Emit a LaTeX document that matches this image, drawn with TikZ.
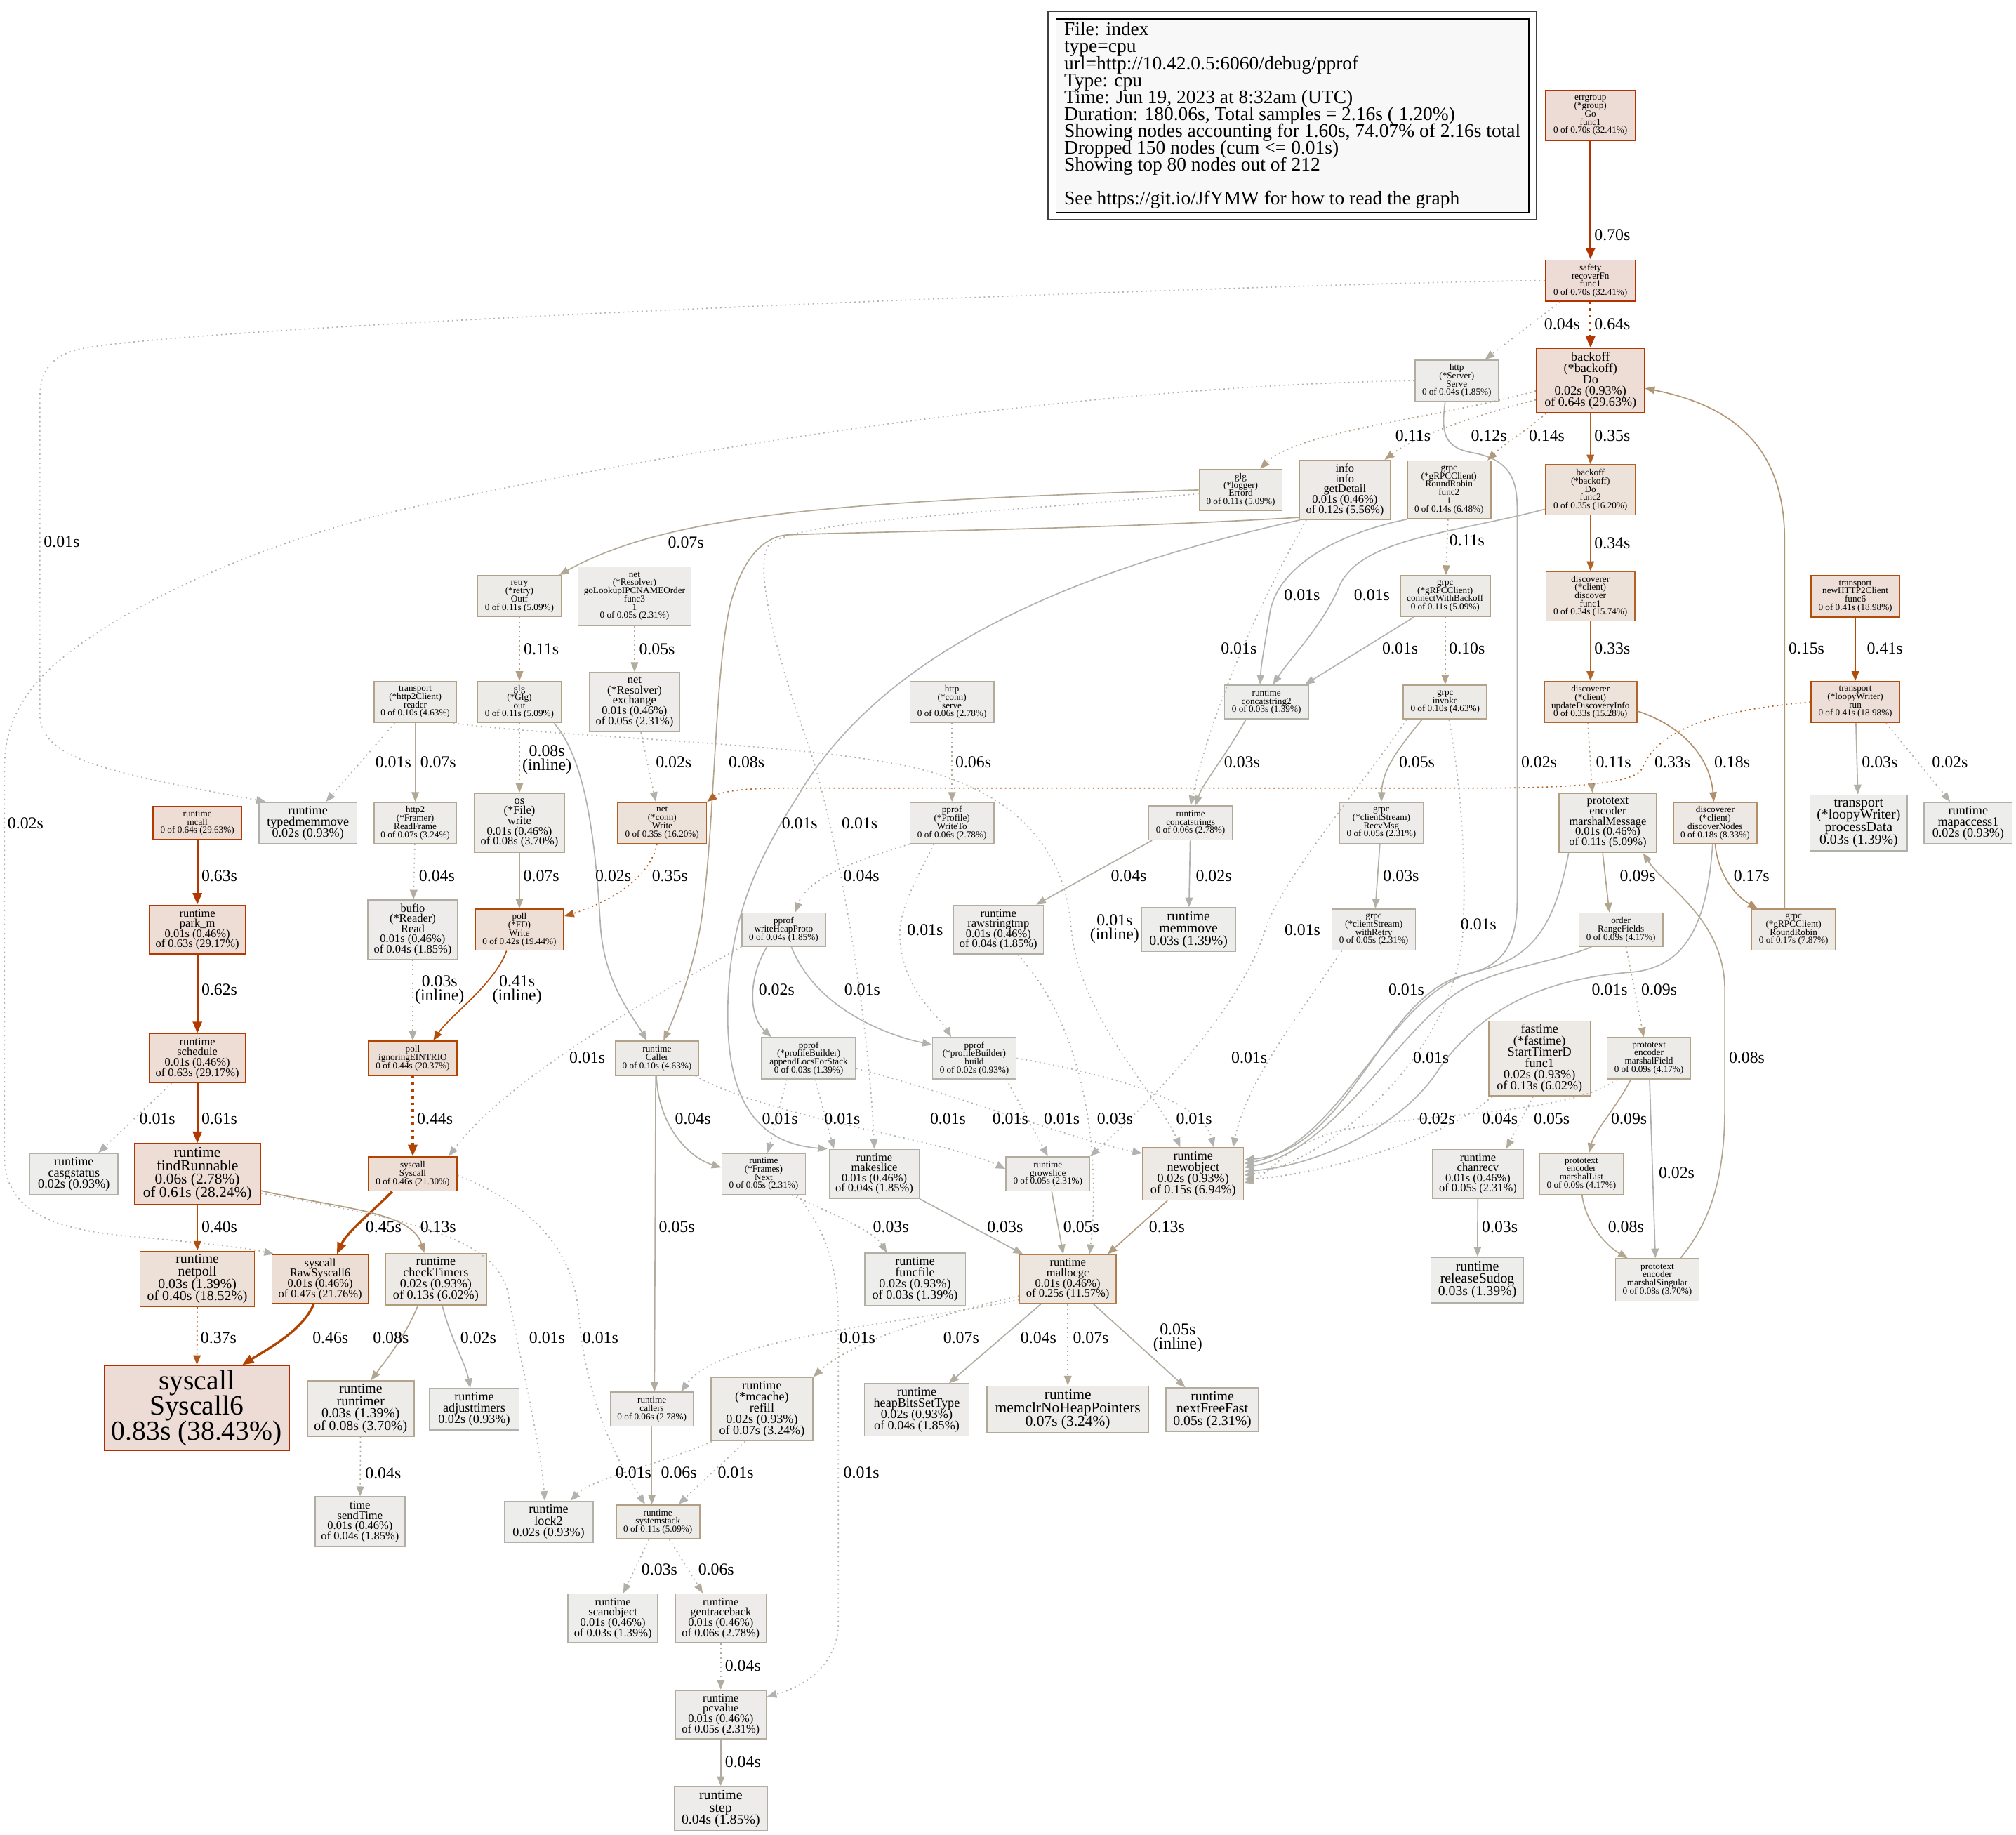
\documentclass[tikz,border=0pt]{standalone}
\usepackage{fontspec}
\setmainfont{Liberation Serif}
\usetikzlibrary{arrows.meta}
\makeatletter
\newcommand\ppmk[1]{%
  \pgfmathsetmacro\pp@s{#1/216}%
  \pgfmathsetmacro\pp@f{min(1,\pp@s/0.2)}%
  \pgfmathsetmacro\pp@p{exp(0.3*ln(\pp@s))}%
  \pgfmathsetmacro\pp@g{0.7*(1-\pp@f*\pp@p)}%
  \pgfmathsetmacro\pp@b{0.7*(1-\pp@f)}%
  \pgfmathsetmacro\pp@G{0.93*(1-0.1*\pp@f*\pp@p)}%
  \pgfmathsetmacro\pp@B{0.93*(1-0.1*\pp@f)}%
  \edef\pp@tmp{\noexpand\definecolor{c#1-fg}{rgb}{0.7,\pp@g,\pp@b}\noexpand\definecolor{c#1-bg}{rgb}{0.93,\pp@G,\pp@B}}%
  \pp@tmp}
\makeatother
\newcount\ppi
\ppi=1
\loop
  \expandafter\ppmk\expandafter{\the\ppi}%
  \advance\ppi by 1
\ifnum\ppi<84\repeat
\definecolor{legbg}{HTML}{F8F8F8}
\newcommand\ftA{\fontsize{7.2}{6.4}\selectfont\lineskiplimit=-60pt\relax}
\newcommand\ftB{\fontsize{9.0}{8.0}\selectfont\lineskiplimit=-60pt\relax}
\newcommand\ftC{\fontsize{9.9}{8.8}\selectfont\lineskiplimit=-60pt\relax}
\newcommand\ftD{\fontsize{10.8}{9.6}\selectfont\lineskiplimit=-60pt\relax}
\newcommand\ftE{\fontsize{11.7}{10.4}\selectfont\lineskiplimit=-60pt\relax}
\newcommand\ftG{\fontsize{21.6}{19.6}\selectfont\lineskiplimit=-60pt\relax}
\newcommand\ftL{\fontsize{13}{10.9}\selectfont\lineskiplimit=-60pt\relax}
\newcommand\ftLeg{\fontsize{15}{13.16}\selectfont\lineskiplimit=-60pt\relax}
\tikzset{
  pn/.style n args={4}{rectangle, draw=c#1-fg, fill=c#1-bg, line width=0.9pt, minimum width=#2, minimum height=#3, font=#4, inner sep=0.5pt, align=center},
  ed/.style={draw=c#1-fg, line width=0.9pt, -{Triangle[length=7.5pt,width=5.8pt]}},
  thk/.style={line width=1.8pt, -{Triangle[length=9pt,width=7pt]}},
  dt/.style={dash pattern=on 1pt off 2.6pt},
  dtk/.style={dash pattern=on 1.8pt off 3.4pt},
  lb/.style={font=\ftL, inner sep=0pt, align=center},
}
\begin{document}
\begin{tikzpicture}[x=1pt,y=-1pt]
\fill[white] (0,0) rectangle (1568,1426.6);
\useasboundingbox (0,0) rectangle (1568,1426.6);
% legend
\node[draw=black!75, line width=1pt, minimum width=380.1pt, minimum height=162.4pt, inner sep=0pt] (legendFrame) at (1005.2,89.8) {};
\node[draw=black, fill=legbg, line width=0.9pt, minimum width=367.7pt, minimum height=150.7pt, inner sep=0pt, align=left, font=\ftLeg] (legend) at (1005.2,90) {File: index\\type=cpu\\url=http://10.42.0.5:6060/debug/pprof\\Type: cpu\\Time: Jun 19, 2023 at 8:32am (UTC)\\Duration: 180.06s, Total samples = 2.16s ( 1.20\%)\\Showing nodes accounting for 1.60s, 74.07\% of 2.16s total\\Dropped 150 nodes (cum <= 0.01s)\\Showing top 80 nodes out of 212\\[13.16pt]See https://git.io/JfYMW for how to read the graph};
% nodes
\node[pn={70}{70pt}{39pt}{\ftA}] (errgroup) at (1237,89.7) {errgroup\\(*group)\\Go\\func1\\0 of 0.70s (32.41\%)};
\node[pn={70}{70pt}{32pt}{\ftA}] (safety) at (1237,218.2) {safety\\recoverFn\\func1\\0 of 0.70s (32.41\%)};
\node[pn={64}{84pt}{50pt}{\ftC}] (backoffDo) at (1237,296) {backoff\\(*backoff)\\Do\\0.02s (0.93\%)\\of 0.64s (29.63\%)};
\node[pn={4}{65pt}{32pt}{\ftA}] (httpServe) at (1133,296) {http\\(*Server)\\Serve\\0 of 0.04s (1.85\%)};
\node[pn={35}{70pt}{39pt}{\ftA}] (backoffF2) at (1237,381) {backoff\\(*backoff)\\Do\\func2\\0 of 0.35s (16.20\%)};
\node[pn={14}{65pt}{45pt}{\ftA}] (rrF2) at (1127,381) {grpc\\(*gRPCClient)\\RoundRobin\\func2\\1\\0 of 0.14s (6.48\%)};
\node[pn={12}{71pt}{46pt}{\ftB}] (info) at (1046,381) {info\\info\\getDetail\\0.01s (0.46\%)\\of 0.12s (5.56\%)};
\node[pn={11}{64.5pt}{32pt}{\ftA}] (glgErrord) at (965,381) {glg\\(*logger)\\Errord\\0 of 0.11s (5.09\%)};
\node[pn={11}{65pt}{32pt}{\ftA}] (retry) at (404,463.6) {retry\\(*retry)\\Outf\\0 of 0.11s (5.09\%)};
\node[pn={5}{88pt}{45.6pt}{\ftA}] (goLookup) at (493.5,463.6) {net\\(*Resolver)\\goLookupIPCNAMEOrder\\func3\\1\\0 of 0.05s (2.31\%)};
\node[pn={11}{70pt}{32pt}{\ftA}] (cwb) at (1124,463.6) {grpc\\(*gRPCClient)\\connectWithBackoff\\0 of 0.11s (5.09\%)};
\node[pn={34}{69pt}{38.4pt}{\ftA}] (discover) at (1237,463.7) {discoverer\\(*client)\\discover\\func1\\0 of 0.34s (15.74\%)};
\node[pn={41}{69pt}{32.4pt}{\ftA}] (newH2) at (1443,463.7) {transport\\newHTTP2Client\\func6\\0 of 0.41s (18.98\%)};
\node[pn={10}{64pt}{32pt}{\ftA}] (reader) at (323,546) {transport\\(*http2Client)\\reader\\0 of 0.10s (4.63\%)};
\node[pn={11}{65pt}{32pt}{\ftA}] (glgOut) at (404,546) {glg\\(*Glg)\\out\\0 of 0.11s (5.09\%)};
\node[pn={5}{70pt}{46pt}{\ftB}] (exchange) at (493.5,546) {net\\(*Resolver)\\exchange\\0.01s (0.46\%)\\of 0.05s (2.31\%)};
\node[pn={6}{65pt}{32pt}{\ftA}] (connServe) at (740.4,546) {http\\(*conn)\\serve\\0 of 0.06s (2.78\%)};
\node[pn={3}{65pt}{26.4pt}{\ftA}] (cs2) at (985,546) {runtime\\concatstring2\\0 of 0.03s (1.39\%)};
\node[pn={10}{65pt}{26.4pt}{\ftA}] (invoke) at (1124,546) {grpc\\invoke\\0 of 0.10s (4.63\%)};
\node[pn={33}{72pt}{32pt}{\ftA}] (udi) at (1237,546) {discoverer\\(*client)\\updateDiscoveryInfo\\0 of 0.33s (15.28\%)};
\node[pn={41}{69pt}{32pt}{\ftA}] (run) at (1443,546) {transport\\(*loopyWriter)\\run\\0 of 0.41s (18.98\%)};
\node[pn={64}{69pt}{26pt}{\ftA}] (mcall) at (153.5,640) {runtime\\mcall\\0 of 0.64s (29.63\%)};
\node[pn={2}{76.4pt}{32pt}{\ftC}] (typedmm) at (239.5,640) {runtime\\typedmemmove\\0.02s (0.93\%)};
\node[pn={7}{64pt}{32pt}{\ftA}] (readFrame) at (323,640) {http2\\(*Framer)\\ReadFrame\\0 of 0.07s (3.24\%)};
\node[pn={8}{70pt}{46pt}{\ftB}] (osWrite) at (404,640) {os\\(*File)\\write\\0.01s (0.46\%)\\of 0.08s (3.70\%)};
\node[pn={35}{69pt}{32pt}{\ftA}] (connWrite) at (515,640) {net\\(*conn)\\Write\\0 of 0.35s (16.20\%)};
\node[pn={6}{65pt}{32pt}{\ftA}] (writeTo) at (740.4,640) {pprof\\(*Profile)\\WriteTo\\0 of 0.06s (2.78\%)};
\node[pn={6}{65pt}{26.4pt}{\ftA}] (css) at (926,640) {runtime\\concatstrings\\0 of 0.06s (2.78\%)};
\node[pn={5}{65pt}{32pt}{\ftA}] (recvMsg) at (1074.4,640) {grpc\\(*clientStream)\\RecvMsg\\0 of 0.05s (2.31\%)};
\node[pn={11}{76pt}{46pt}{\ftB}] (marshalMsg) at (1250.5,640) {prototext\\encoder\\marshalMessage\\0.01s (0.46\%)\\of 0.11s (5.09\%)};
\node[pn={18}{65pt}{32pt}{\ftA}] (discNodes) at (1334,640) {discoverer\\(*client)\\discoverNodes\\0 of 0.18s (8.33\%)};
\node[pn={3}{75.6pt}{43.6pt}{\ftD}] (processData) at (1445.6,640) {transport\\(*loopyWriter)\\processData\\0.03s (1.39\%)};
\node[pn={2}{68.5pt}{32pt}{\ftC}] (mapaccess) at (1530.8,640) {runtime\\mapaccess1\\0.02s (0.93\%)};
\node[pn={63}{75pt}{38pt}{\ftB}] (parkm) at (153.5,723) {runtime\\park\_m\\0.01s (0.46\%)\\of 0.63s (29.17\%)};
\node[pn={4}{70pt}{46pt}{\ftB}] (bufio) at (321,723) {bufio\\(*Reader)\\Read\\0.01s (0.46\%)\\of 0.04s (1.85\%)};
\node[pn={42}{69pt}{32pt}{\ftA}] (fdWrite) at (404,723) {poll\\(*FD)\\Write\\0 of 0.42s (19.44\%)};
\node[pn={4}{65pt}{26pt}{\ftA}] (heapProto) at (609.5,723) {pprof\\writeHeapProto\\0 of 0.04s (1.85\%)};
\node[pn={4}{70pt}{38pt}{\ftB}] (rawstr) at (776.5,723) {runtime\\rawstringtmp\\0.01s (0.46\%)\\of 0.04s (1.85\%)};
\node[pn={3}{73pt}{34pt}{\ftD}] (memmove) at (924.4,723) {runtime\\memmove\\0.03s (1.39\%)};
\node[pn={5}{65pt}{32pt}{\ftA}] (withRetry) at (1068.5,723) {grpc\\(*clientStream)\\withRetry\\0 of 0.05s (2.31\%)};
\node[pn={9}{65pt}{26pt}{\ftA}] (rangeFields) at (1260.7,723) {order\\RangeFields\\0 of 0.09s (4.17\%)};
\node[pn={17}{65pt}{32pt}{\ftA}] (rrClient) at (1395,723) {grpc\\(*gRPCClient)\\RoundRobin\\0 of 0.17s (7.87\%)};
\node[pn={63}{75pt}{38pt}{\ftB}] (schedule) at (153.5,823) {runtime\\schedule\\0.01s (0.46\%)\\of 0.63s (29.17\%)};
\node[pn={44}{69pt}{26.6pt}{\ftA}] (eintr) at (321,823) {poll\\ignoringEINTRIO\\0 of 0.44s (20.37\%)};
\node[pn={10}{65pt}{26.6pt}{\ftA}] (caller) at (511,823) {runtime\\Caller\\0 of 0.10s (4.63\%)};
\node[pn={3}{73pt}{32pt}{\ftA}] (appendLocs) at (629,823) {pprof\\(*profileBuilder)\\appendLocsForStack\\0 of 0.03s (1.39\%)};
\node[pn={2}{65pt}{32pt}{\ftA}] (build) at (757.8,823) {pprof\\(*profileBuilder)\\build\\0 of 0.02s (0.93\%)};
\node[pn={13}{79pt}{58.4pt}{\ftC}] (fastime) at (1197.4,823.2) {fastime\\(*fastime)\\StartTimerD\\func1\\0.02s (0.93\%)\\of 0.13s (6.02\%)};
\node[pn={9}{65pt}{32pt}{\ftA}] (marshalField) at (1282.5,823) {prototext\\encoder\\marshalField\\0 of 0.09s (4.17\%)};
\node[pn={2}{68.5pt}{32pt}{\ftC}] (casg) at (57.5,913) {runtime\\casgstatus\\0.02s (0.93\%)};
\node[pn={61}{98pt}{47pt}{\ftE}] (findRunnable) at (153.5,913) {runtime\\findRunnable\\0.06s (2.78\%)\\of 0.61s (28.24\%)};
\node[pn={46}{69pt}{26.5pt}{\ftA}] (syscall) at (321,913) {syscall\\Syscall\\0 of 0.46s (21.30\%)};
\node[pn={5}{65pt}{32pt}{\ftA}] (framesNext) at (594,913) {runtime\\(*Frames)\\Next\\0 of 0.05s (2.31\%)};
\node[pn={4}{70pt}{38pt}{\ftB}] (makeslice) at (680,913) {runtime\\makeslice\\0.01s (0.46\%)\\of 0.04s (1.85\%)};
\node[pn={5}{65pt}{26.5pt}{\ftA}] (growslice) at (815,913) {runtime\\growslice\\0 of 0.05s (2.31\%)};
\node[pn={15}{78.5pt}{40.6pt}{\ftC}] (newobject) at (928,913) {runtime\\newobject\\0.02s (0.93\%)\\of 0.15s (6.94\%)};
\node[pn={5}{71pt}{38pt}{\ftB}] (chanrecv) at (1149.5,913) {runtime\\chanrecv\\0.01s (0.46\%)\\of 0.05s (2.31\%)};
\node[pn={9}{65pt}{32pt}{\ftA}] (marshalList) at (1230,913) {prototext\\encoder\\marshalList\\0 of 0.09s (4.17\%)};
\node[pn={40}{89pt}{43pt}{\ftD}] (netpoll) at (153.5,994.6) {runtime\\netpoll\\0.03s (1.39\%)\\of 0.40s (18.52\%)};
\node[pn={47}{75pt}{38pt}{\ftB}] (rawSyscall6) at (249,994.8) {syscall\\RawSyscall6\\0.01s (0.46\%)\\of 0.47s (21.76\%)};
\node[pn={13}{78.5pt}{40pt}{\ftC}] (checkTimers) at (339,995) {runtime\\checkTimers\\0.02s (0.93\%)\\of 0.13s (6.02\%)};
\node[pn={3}{78.5pt}{40.6pt}{\ftC}] (funcfile) at (711.7,995) {runtime\\funcfile\\0.02s (0.93\%)\\of 0.03s (1.39\%)};
\node[pn={25}{75pt}{38pt}{\ftB}] (mallocgc) at (830.5,994.8) {runtime\\mallocgc\\0.01s (0.46\%)\\of 0.25s (11.57\%)};
\node[pn={3}{72pt}{35.5pt}{\ftD}] (releaseSudog) at (1149,995.4) {runtime\\releaseSudog\\0.03s (1.39\%)};
\node[pn={8}{65pt}{33pt}{\ftA}] (marshalSingular) at (1289,995.5) {prototext\\encoder\\marshalSingular\\0 of 0.08s (3.70\%)};
\node[pn={83}{144pt}{66pt}{\ftG}] (syscall6) at (153,1095) {syscall\\Syscall6\\0.83s (38.43\%)};
\node[pn={8}{83pt}{43pt}{\ftD}] (runtimer) at (280.5,1095.5) {runtime\\runtimer\\0.03s (1.39\%)\\of 0.08s (3.70\%)};
\node[pn={2}{69.7pt}{32pt}{\ftC}] (adjusttimers) at (368.8,1096) {runtime\\adjusttimers\\0.02s (0.93\%)};
\node[pn={6}{64.4pt}{26.4pt}{\ftA}] (callers) at (507,1096) {runtime\\callers\\0 of 0.06s (2.78\%)};
\node[pn={7}{79pt}{49.3pt}{\ftC}] (refill) at (592.6,1096) {runtime\\(*mcache)\\refill\\0.02s (0.93\%)\\of 0.07s (3.24\%)};
\node[pn={4}{81.5pt}{40.5pt}{\ftC}] (heapBits) at (713,1096.5) {runtime\\heapBitsSetType\\0.02s (0.93\%)\\of 0.04s (1.85\%)};
\node[pn={7}{125.7pt}{36pt}{\ftE}] (memclr) at (830.5,1096) {runtime\\memclrNoHeapPointers\\0.07s (3.24\%)};
\node[pn={5}{72pt}{34pt}{\ftD}] (nextFree) at (942.9,1096.4) {runtime\\nextFreeFast\\0.05s (2.31\%)};
\node[pn={4}{70pt}{39pt}{\ftB}] (sendTime) at (280,1183.5) {time\\sendTime\\0.01s (0.46\%)\\of 0.04s (1.85\%)};
\node[pn={2}{69pt}{32pt}{\ftC}] (lock2) at (426.7,1183.6) {runtime\\lock2\\0.02s (0.93\%)};
\node[pn={11}{65pt}{26.4pt}{\ftA}] (systemstack) at (511.7,1183.6) {runtime\\systemstack\\0 of 0.11s (5.09\%)};
\node[pn={3}{70pt}{38pt}{\ftB}] (scanobject) at (476.7,1258.6) {runtime\\scanobject\\0.01s (0.46\%)\\of 0.03s (1.39\%)};
\node[pn={6}{71pt}{38pt}{\ftB}] (gentraceback) at (560.6,1258.6) {runtime\\gentraceback\\0.01s (0.46\%)\\of 0.06s (2.78\%)};
\node[pn={5}{71pt}{38pt}{\ftB}] (pcvalue) at (560.6,1333.5) {runtime\\pcvalue\\0.01s (0.46\%)\\of 0.05s (2.31\%)};
\node[pn={4}{72.3pt}{34.4pt}{\ftD}] (step) at (560.6,1406.7) {runtime\\step\\0.04s (1.85\%)};
% edges
\draw[ed=70,thk] (errgroup) -- (safety);
\draw[ed=64,thk,dtk] (safety) -- (backoffDo);
\draw[ed=4,dt] ([xshift=12pt]safety.south west) -- ([xshift=-11pt]httpServe.north east);
\draw[ed=1,dt] (safety.west) .. controls (1000,220) and (200,250) .. (70,270) .. controls (42,274) and (31,286) .. (31,310) -- (31,555) .. controls (31,590) and (80,600) .. ([xshift=6pt]typedmm.north west);
\draw[ed=2,dt] (httpServe.west) .. controls (850,300) and (550,345) .. (327.6,393) .. controls (180,425) and (60,490) .. (25,535) .. controls (8,558) and (3.5,575) .. (3.5,600) -- (3.5,900) .. controls (3.5,950) and (60,958) .. (107,962) .. controls (150,966) and (190,970) .. ([xshift=2pt]rawSyscall6.north west);
\draw[ed=2] ([xshift=-9pt]httpServe.south) .. controls (1121,335) and (1122,348) .. (1145,352) .. controls (1172,357) and (1180,370) .. (1180,395) -- (1180,700) .. controls (1180,738) and (1166,752) .. (1140,758) .. controls (1075,773) and (1050,895) .. ([yshift=11pt]newobject.east);
\draw[ed=11,dt] ([yshift=-8pt]backoffDo.west) .. controls (1120,325) and (1010,335) .. ([xshift=15pt]glgErrord.north);
\draw[ed=12,dt] ([yshift=-15pt]backoffDo.west) .. controls (1140,325) and (1100,340) .. ([xshift=-5pt]info.north east);
\draw[ed=14,dt] ([xshift=8pt]backoffDo.south west) .. controls (1190,333) and (1170,345) .. ([xshift=-3pt]rrF2.north east);
\draw[ed=35] (backoffDo) -- (backoffF2);
\draw[ed=34] (backoffF2) -- (discover);
\draw[ed=33] (discover) -- (udi);
\draw[ed=15] ([xshift=-7pt]rrClient.north) -- (1388,420) .. controls (1388,345) and (1345,315) .. ([yshift=-6pt]backoffDo.east);
\draw[ed=41] (newH2) -- (run);
\draw[ed=7] (glgErrord.west) .. controls (650,390) and (520,400) .. ([xshift=-2pt]retry.north east);
\draw[ed=1,dt] ([yshift=-3pt]glgErrord.west) .. controls (760,400) and (630,404) .. (600,422) .. controls (585,432) and (600,500) .. (629,580) .. controls (655,660) and (676,800) .. (makeslice.north);
\draw[ed=11,dt] (rrF2) -- (cwb);
\draw[ed=11,dt] (retry) -- (glgOut);
\draw[ed=5,dt] (goLookup) -- (exchange);
\draw[ed=1] (rrF2.south west) .. controls (1040,415) and (995,440) .. (988,475) .. controls (984,500) and (981,515) .. ([xshift=-5pt]cs2.north);
\draw[ed=1] ([yshift=-15pt]backoffF2.west) .. controls (1130,415) and (1060,418) .. (1042,455) .. controls (1030,485) and (1005,510) .. ([xshift=5pt]cs2.north);
\draw[ed=1,dt] ([xshift=-30pt]info.south) .. controls (990,450) and (945,540) .. (css.north);
\draw[ed=1] ([xshift=11pt]cwb.south west) -- ([xshift=-3pt]cs2.north east);
\draw[ed=10,dt] (cwb) -- (invoke);
\draw[ed=1,dt] ([xshift=-16pt]reader.south) -- ([xshift=14pt]typedmm.north);
\draw[ed=7] (reader) -- (readFrame);
\draw[ed=8,dt] (glgOut) -- (osWrite);
\draw[ed=2,dt] ([xshift=5pt]exchange.south) -- ([xshift=-5pt]connWrite.north);
\draw[ed=8] ([yshift=2pt]info.south west) .. controls (850,412) and (690,413) .. (612,416) .. controls (590,418) and (576,440) .. (568,470) .. controls (556,520) and (556,640) .. (546,712) .. controls (541,750) and (525,790) .. ([xshift=5pt]caller.north);
\draw[ed=6,dt] (connServe) -- (writeTo);
\draw[ed=3] ([xshift=-16pt]cs2.south) .. controls (952,590) and (935,610) .. ([xshift=4pt]css.north);
\draw[ed=5] ([xshift=-18pt]invoke.south) .. controls (1085,585) and (1075,600) .. (recvMsg.north);
\draw[ed=11,dt] ([xshift=-2pt]udi.south) -- ([xshift=-12pt]marshalMsg.north);
\draw[ed=33,dt] (run.west) .. controls (1340,552) and (1290,565) .. (1277,598) .. controls (1270,611) and (1210,613) .. (1140,613) -- (610,613) .. controls (575,613) and (560,616) .. (connWrite.north east);
\draw[ed=18] ([yshift=-7pt]udi.east) .. controls (1310,565) and (1330,590) .. ([xshift=-1pt]discNodes.north);
\draw[ed=3] (run) -- (processData);
\draw[ed=2,dt] ([xshift=-11pt]run.south east) -- ([xshift=-14pt]mapaccess.north);
\draw[ed=1] ([xshift=1pt]info.south west) .. controls (850,440) and (690,500) .. (620,620) .. controls (585,675) and (566,720) .. (566,790) .. controls (566,870) and (600,890) .. ([xshift=-1pt]makeslice.north west);
\draw[ed=63,thk] (mcall) -- (parkm);
\draw[ed=4,dt] (readFrame) -- (bufio);
\draw[ed=7] (osWrite) -- (fdWrite);
\draw[ed=2] ([xshift=-6pt]glgOut.south east) .. controls (455,590) and (463,650) .. (467,720) .. controls (470,765) and (492,790) .. ([xshift=-8pt]caller.north);
\draw[ed=35,dt] ([xshift=-4pt]connWrite.south) .. controls (505,685) and (470,703) .. ([yshift=-6pt]fdWrite.north east);
\draw[ed=4,dt] (writeTo.south west) .. controls (670,668) and (628,682) .. ([xshift=9pt]heapProto.north);
\draw[ed=4] ([xshift=-30pt]css.south) -- ([xshift=-6pt]rawstr.north east);
\draw[ed=2] (css) -- (memmove);
\draw[ed=3] (recvMsg) -- (withRetry);
\draw[ed=9] ([xshift=-4pt]marshalMsg.south) -- ([xshift=-9pt]rangeFields.north);
\draw[ed=17] (discNodes.south) .. controls (1336,680) and (1350,697) .. ([xshift=-28pt]rrClient.north);
\draw[ed=1,dt] ([xshift=-14pt]writeTo.south) .. controls (712,685) and (698,710) .. (700,730) .. controls (702,770) and (730,790) .. ([xshift=-18pt]build.north);
\draw[ed=1,dt] ([xshift=-3pt]reader.south east) .. controls (450,575) and (650,578) .. (726,601) .. controls (790,620) and (828,660) .. (833,720) .. controls (838,790) and (900,850) .. ([xshift=-10pt]newobject.north);
\draw[ed=1,dt] ([xshift=-30pt]invoke.south) .. controls (1060,610) and (1000,680) .. (985,720) .. controls (965,790) and (880,870) .. (growslice.north east);
\draw[ed=1,dt] ([xshift=3pt]invoke.south) .. controls (1138,620) and (1140,680) .. (1138,720) .. controls (1135,820) and (1030,905) .. ([yshift=-1pt]newobject.east);
\draw[ed=62,thk] (parkm) -- (schedule);
\draw[ed=3,dt] (bufio) -- (eintr);
\draw[ed=41] ([xshift=-10pt]fdWrite.south) .. controls (385,765) and (350,790) .. ([xshift=16pt]eintr.north);
\draw[ed=2] ([xshift=-13pt]heapProto.south) .. controls (582,760) and (582,790) .. ([xshift=-29pt]appendLocs.north);
\draw[ed=1] ([xshift=6pt]heapProto.south) .. controls (635,785) and (690,805) .. ([yshift=-6pt]build.north west);
\draw[ed=1] ([xshift=8pt]marshalMsg.south west) .. controls (1210,715) and (1195,745) .. (1150,755) .. controls (1080,770) and (1045,890) .. ([yshift=8pt]newobject.east);
\draw[ed=1] ([xshift=-2pt]discNodes.south) .. controls (1328,720) and (1310,752) .. (1270,756) .. controls (1190,762) and (1150,790) .. (1120,830) .. controls (1095,872) and (1030,906) .. ([yshift=2pt]newobject.east);
\draw[ed=9,dt] ([xshift=4pt]rangeFields.south) -- ([xshift=-4pt]marshalField.north);
\draw[ed=1,dt] (heapProto.south west) .. controls (480,790) and (390,845) .. ([xshift=-7pt]syscall.north east);
\draw[ed=1,dt] ([xshift=8pt]withRetry.south west) .. controls (1010,790) and (970,840) .. ([xshift=31pt]newobject.north);
\draw[ed=1] ([xshift=10pt]rangeFields.south west) .. controls (1210,748) and (1170,752) .. (1140,768) .. controls (1090,795) and (1040,895) .. ([yshift=5pt]newobject.east);
\draw[ed=8] ([xshift=-15pt]marshalSingular.north east) .. controls (1335,945) and (1341.5,905) .. (1341.5,860) -- (1341.5,770) .. controls (1341.5,715) and (1295,690) .. ([xshift=-11pt]marshalMsg.south east);
\draw[ed=1,dt] ([xshift=-20pt]schedule.south) -- ([xshift=19pt]casg.north);
\draw[ed=61,thk] (schedule) -- (findRunnable);
\draw[ed=44,thk,dtk] (eintr) -- (syscall);
\draw[ed=4] ([xshift=-0.5pt]caller.south) .. controls (512,875) and (535,900) .. ([yshift=5pt]framesNext.west);
\draw[ed=1,dt] ([xshift=-17pt]appendLocs.south) -- ([xshift=3pt]framesNext.north);
\draw[ed=1,dt] ([xshift=5pt]appendLocs.south) -- ([xshift=4pt]makeslice.north west);
\draw[ed=1,dt] ([xshift=-3pt]caller.south east) .. controls (600,870) and (730,885) .. ([yshift=4pt]growslice.west);
\draw[ed=1,dt] ([yshift=-8pt]appendLocs.east) .. controls (740,850) and (830,885) .. ([yshift=16pt]newobject.west);
\draw[ed=1,dt] ([xshift=-8pt]build.south east) -- (growslice.north);
\draw[ed=3,dt] ([xshift=15pt]rawstr.south) .. controls (845,800) and (856,900) .. ([xshift=17pt]mallocgc.north);
\draw[ed=1,dt] (build.east) .. controls (860,835) and (935,855) .. ([xshift=16pt]newobject.north);
\draw[ed=2,dt] ([xshift=8pt]marshalField.south west) .. controls (1220,868) and (1100,865) .. (1040,880) .. controls (1000,890) and (985,915) .. ([yshift=-7pt]newobject.east);
\draw[ed=4,dt] ([xshift=3pt]fastime.south west) .. controls (1120,890) and (1010,916) .. ([yshift=-4pt]newobject.east);
\draw[ed=5,dt] ([xshift=-5pt]fastime.south) -- ([xshift=22pt]chanrecv.north);
\draw[ed=9] ([xshift=-14pt]marshalField.south) .. controls (1258,860) and (1240,880) .. ([xshift=6pt]marshalList.north);
\draw[ed=2] ([xshift=0.5pt]marshalField.south) -- ([xshift=-1.5pt]marshalSingular.north);
\draw[ed=40] (findRunnable) -- (netpoll);
\draw[ed=45,thk] ([xshift=-16pt]syscall.south) .. controls (290,942) and (270,958) .. ([xshift=13pt]rawSyscall6.north);
\draw[ed=13] ([yshift=-13pt]findRunnable.east) .. controls (265,940) and (320,942) .. ([xshift=-9pt]checkTimers.north);
\draw[ed=5] ([xshift=-1pt]caller.south) -- ([xshift=2pt]callers.north);
\draw[ed=3,dt] ([xshift=-11pt]framesNext.south east) .. controls (650,945) and (680,958) .. ([xshift=-22pt]funcfile.north);
\draw[ed=3] (makeslice.south east) -- ([xshift=3pt]mallocgc.north west);
\draw[ed=5] ([xshift=3pt]growslice.south) -- ([xshift=-3.5pt]mallocgc.north);
\draw[ed=13] ([xshift=-20pt]newobject.south) -- ([xshift=31pt]mallocgc.north);
\draw[ed=3] (chanrecv) -- (releaseSudog);
\draw[ed=8] ([xshift=0.5pt]marshalList.south) .. controls (1233,950) and (1248,968) .. ([xshift=-23pt]marshalSingular.north);
\draw[ed=37,dt] (netpoll) -- (syscall6);
\draw[ed=46,thk] ([xshift=-5pt]rawSyscall6.south) .. controls (235,1035) and (210,1048) .. ([xshift=-37pt]syscall6.north east);
\draw[ed=8] ([xshift=-14pt]checkTimers.south) .. controls (315,1040) and (300,1058) .. ([xshift=8pt]runtimer.north);
\draw[ed=2] ([xshift=5pt]checkTimers.south) .. controls (350,1040) and (362,1060) .. ([xshift=-3pt]adjusttimers.north);
\draw[ed=1,dt] ([yshift=-15pt]findRunnable.east) .. controls (330,950) and (385,965) .. (395,1005) .. controls (405,1060) and (420,1120) .. ([xshift=-3pt]lock2.north);
\draw[ed=1,dt] ([yshift=-1pt]syscall.east) .. controls (420,940) and (445,975) .. (450,1020) .. controls (455,1090) and (482,1140) .. ([xshift=-10pt]systemstack.north);
\draw[ed=1,dt] ([yshift=-16pt]mallocgc.west) .. controls (700,1030) and (560,1040) .. ([xshift=-10pt]callers.north east);
\draw[ed=7,dt] ([yshift=-13pt]mallocgc.west) .. controls (720,1025) and (660,1045) .. (refill.north east);
\draw[ed=4] ([xshift=-21pt]mallocgc.south) -- ([xshift=25pt]heapBits.north);
\draw[ed=7,dt] (mallocgc) -- (memclr);
\draw[ed=5] ([xshift=20pt]mallocgc.south) -- ([xshift=-21pt]nextFree.north);
\draw[ed=4,dt] (runtimer) -- (sendTime);
\draw[ed=1,dt] ([xshift=1pt]refill.south west) .. controls (510,1140) and (460,1150) .. ([xshift=17pt]lock2.north);
\draw[ed=6] (callers.south) -- ([xshift=-4.7pt]systemstack.north);
\draw[ed=1,dt] ([xshift=-13pt]refill.south) -- ([xshift=16pt]systemstack.north);
\draw[ed=1,dt] ([xshift=-7pt]framesNext.south east) .. controls (645,960) and (652,990) .. (652,1030) -- (652,1262) .. controls (652,1295) and (625,1312) .. ([yshift=14pt]pcvalue.east);
\draw[ed=3,dt] ([xshift=-7pt]systemstack.south) -- ([xshift=8pt]scanobject.north);
\draw[ed=6,dt] ([xshift=9pt]systemstack.south) -- ([xshift=-14pt]gentraceback.north);
\draw[ed=4,dt] (gentraceback) -- (pcvalue);
\draw[ed=4] (pcvalue) -- (step);
% labels
\node[lb] (lab1) at (1254,183) {0.70s};
\node[lb] (lab2) at (1215,252) {0.04s};
\node[lb] (lab3) at (1254,252) {0.64s};
\node[lb] (lab4) at (48,421.5) {0.01s};
\node[lb] (lab5) at (19.9,640) {0.02s};
\node[lb] (lab6) at (1099,339) {0.11s};
\node[lb] (lab7) at (1158,339) {0.12s};
\node[lb] (lab8) at (1203,339) {0.14s};
\node[lb] (lab9) at (1254,339) {0.35s};
\node[lb] (lab10) at (533.5,421.7) {0.07s};
\node[lb] (lab11) at (1141,420) {0.11s};
\node[lb] (lab12) at (1254,422.3) {0.34s};
\node[lb] (lab13) at (1405,504.5) {0.15s};
\node[lb] (lab14) at (421,504.7) {0.11s};
\node[lb] (lab15) at (511,504.7) {0.05s};
\node[lb] (lab16) at (1012.7,463) {0.01s};
\node[lb] (lab17) at (1067,463) {0.01s};
\node[lb] (lab18) at (963.5,504.3) {0.01s};
\node[lb] (lab19) at (1089,504.3) {0.01s};
\node[lb] (lab20) at (1141,504.3) {0.10s};
\node[lb] (lab21) at (1254,504.5) {0.33s};
\node[lb] (lab22) at (1466,504.5) {0.41s};
\node[lb] (lab23) at (305.9,592.7) {0.01s};
\node[lb] (lab24) at (340.8,592.7) {0.07s};
\node[lb] (lab25) at (425.4,590.7) {0.08s\\(inline)};
\node[lb] (lab26) at (524,592.7) {0.02s};
\node[lb] (lab27) at (580.7,592.7) {0.08s};
\node[lb] (lab28) at (757,592.7) {0.06s};
\node[lb] (lab29) at (966,592.7) {0.03s};
\node[lb] (lab30) at (1102,592.7) {0.05s};
\node[lb] (lab31) at (1197,593) {0.02s};
\node[lb] (lab32) at (1255,593) {0.11s};
\node[lb] (lab33) at (1300.8,593) {0.33s};
\node[lb] (lab34) at (1347.2,593) {0.18s};
\node[lb] (lab35) at (1462,593) {0.03s};
\node[lb] (lab36) at (1516.6,593) {0.02s};
\node[lb] (lab37) at (622,640) {0.01s};
\node[lb] (lab38) at (668.6,640) {0.01s};
\node[lb] (lab39) at (170.6,681) {0.63s};
\node[lb] (lab40) at (339.8,681) {0.04s};
\node[lb] (lab41) at (421,681) {0.07s};
\node[lb] (lab42) at (477,681) {0.02s};
\node[lb] (lab43) at (521,681) {0.35s};
\node[lb] (lab44) at (670,681) {0.04s};
\node[lb] (lab45) at (877.9,681) {0.04s};
\node[lb] (lab46) at (944,681) {0.02s};
\node[lb] (lab47) at (1089.7,681) {0.03s};
\node[lb] (lab48) at (1273.8,681.4) {0.09s};
\node[lb] (lab49) at (1362.3,681.4) {0.17s};
\node[lb] (lab50) at (719.5,723) {0.01s};
\node[lb] (lab51) at (866.9,722.6) {0.01s\\(inline)};
\node[lb] (lab52) at (1013,723) {0.01s};
\node[lb] (lab53) at (1150,719) {0.01s};
\node[lb] (lab54) at (170.6,769.6) {0.62s};
\node[lb] (lab55) at (341.9,769.7) {0.03s\\(inline)};
\node[lb] (lab56) at (402.2,769.7) {0.41s\\(inline)};
\node[lb] (lab57) at (604,769.6) {0.02s};
\node[lb] (lab58) at (670.6,769.6) {0.01s};
\node[lb] (lab59) at (1093.8,769.6) {0.01s};
\node[lb] (lab60) at (1251.9,769.6) {0.01s};
\node[lb] (lab61) at (1290.4,769.6) {0.09s};
\node[lb] (lab62) at (456.8,822.4) {0.01s};
\node[lb] (lab63) at (971.6,822.6) {0.01s};
\node[lb] (lab64) at (1113,822.6) {0.01s};
\node[lb] (lab65) at (1358.6,822.6) {0.08s};
\node[lb] (lab66) at (122.4,870.3) {0.01s};
\node[lb] (lab67) at (170.6,870.3) {0.61s};
\node[lb] (lab68) at (338.3,870.3) {0.44s};
\node[lb] (lab69) at (538.9,870.3) {0.04s};
\node[lb] (lab70) at (606.6,870.3) {0.01s};
\node[lb] (lab71) at (655.1,870.3) {0.01s};
\node[lb] (lab72) at (737.3,870.3) {0.01s};
\node[lb] (lab73) at (785.8,870.3) {0.01s};
\node[lb] (lab74) at (825.8,870.3) {0.01s};
\node[lb] (lab75) at (867.2,870.3) {0.03s};
\node[lb] (lab76) at (928.7,870.3) {0.01s};
\node[lb] (lab77) at (1117.8,870.3) {0.02s};
\node[lb] (lab78) at (1166.5,870.3) {0.04s};
\node[lb] (lab79) at (1206.9,870.3) {0.05s};
\node[lb] (lab80) at (1267,870.3) {0.09s};
\node[lb] (lab81) at (1304,912.1) {0.02s};
\node[lb] (lab82) at (170.6,954.4) {0.40s};
\node[lb] (lab83) at (298.3,954.4) {0.45s};
\node[lb] (lab84) at (340.8,954.4) {0.13s};
\node[lb] (lab85) at (526.4,954.4) {0.05s};
\node[lb] (lab86) at (692.9,954.4) {0.03s};
\node[lb] (lab87) at (781.7,954.4) {0.03s};
\node[lb] (lab88) at (841,954.4) {0.05s};
\node[lb] (lab89) at (907.6,954.4) {0.13s};
\node[lb] (lab90) at (1166.5,954.4) {0.03s};
\node[lb] (lab91) at (1264.6,954.4) {0.08s};
\node[lb] (lab92) at (170,1040.5) {0.37s};
\node[lb] (lab93) at (257,1040.5) {0.46s};
\node[lb] (lab94) at (304,1040.5) {0.08s};
\node[lb] (lab95) at (372,1040.5) {0.02s};
\node[lb] (lab96) at (425.5,1040.5) {0.01s};
\node[lb] (lab97) at (467,1040.5) {0.01s};
\node[lb] (lab98) at (666.8,1040.5) {0.01s};
\node[lb] (lab99) at (747.6,1040.5) {0.07s};
\node[lb] (lab100) at (807.7,1040.5) {0.04s};
\node[lb] (lab101) at (848.4,1040.5) {0.07s};
\node[lb] (lab102) at (916,1040.5) {0.05s\\(inline)};
\node[lb] (lab103) at (298,1146) {0.04s};
\node[lb] (lab104) at (492.7,1145.4) {0.01s};
\node[lb] (lab105) at (528,1145.4) {0.06s};
\node[lb] (lab106) at (572.2,1145.4) {0.01s};
\node[lb] (lab107) at (670,1145.4) {0.01s};
\node[lb] (lab108) at (512.9,1220.5) {0.03s};
\node[lb] (lab109) at (557,1220.5) {0.06s};
\node[lb] (lab110) at (577.8,1295.4) {0.04s};
\node[lb] (lab111) at (577.8,1370.2) {0.04s};
\end{tikzpicture}
\end{document}
